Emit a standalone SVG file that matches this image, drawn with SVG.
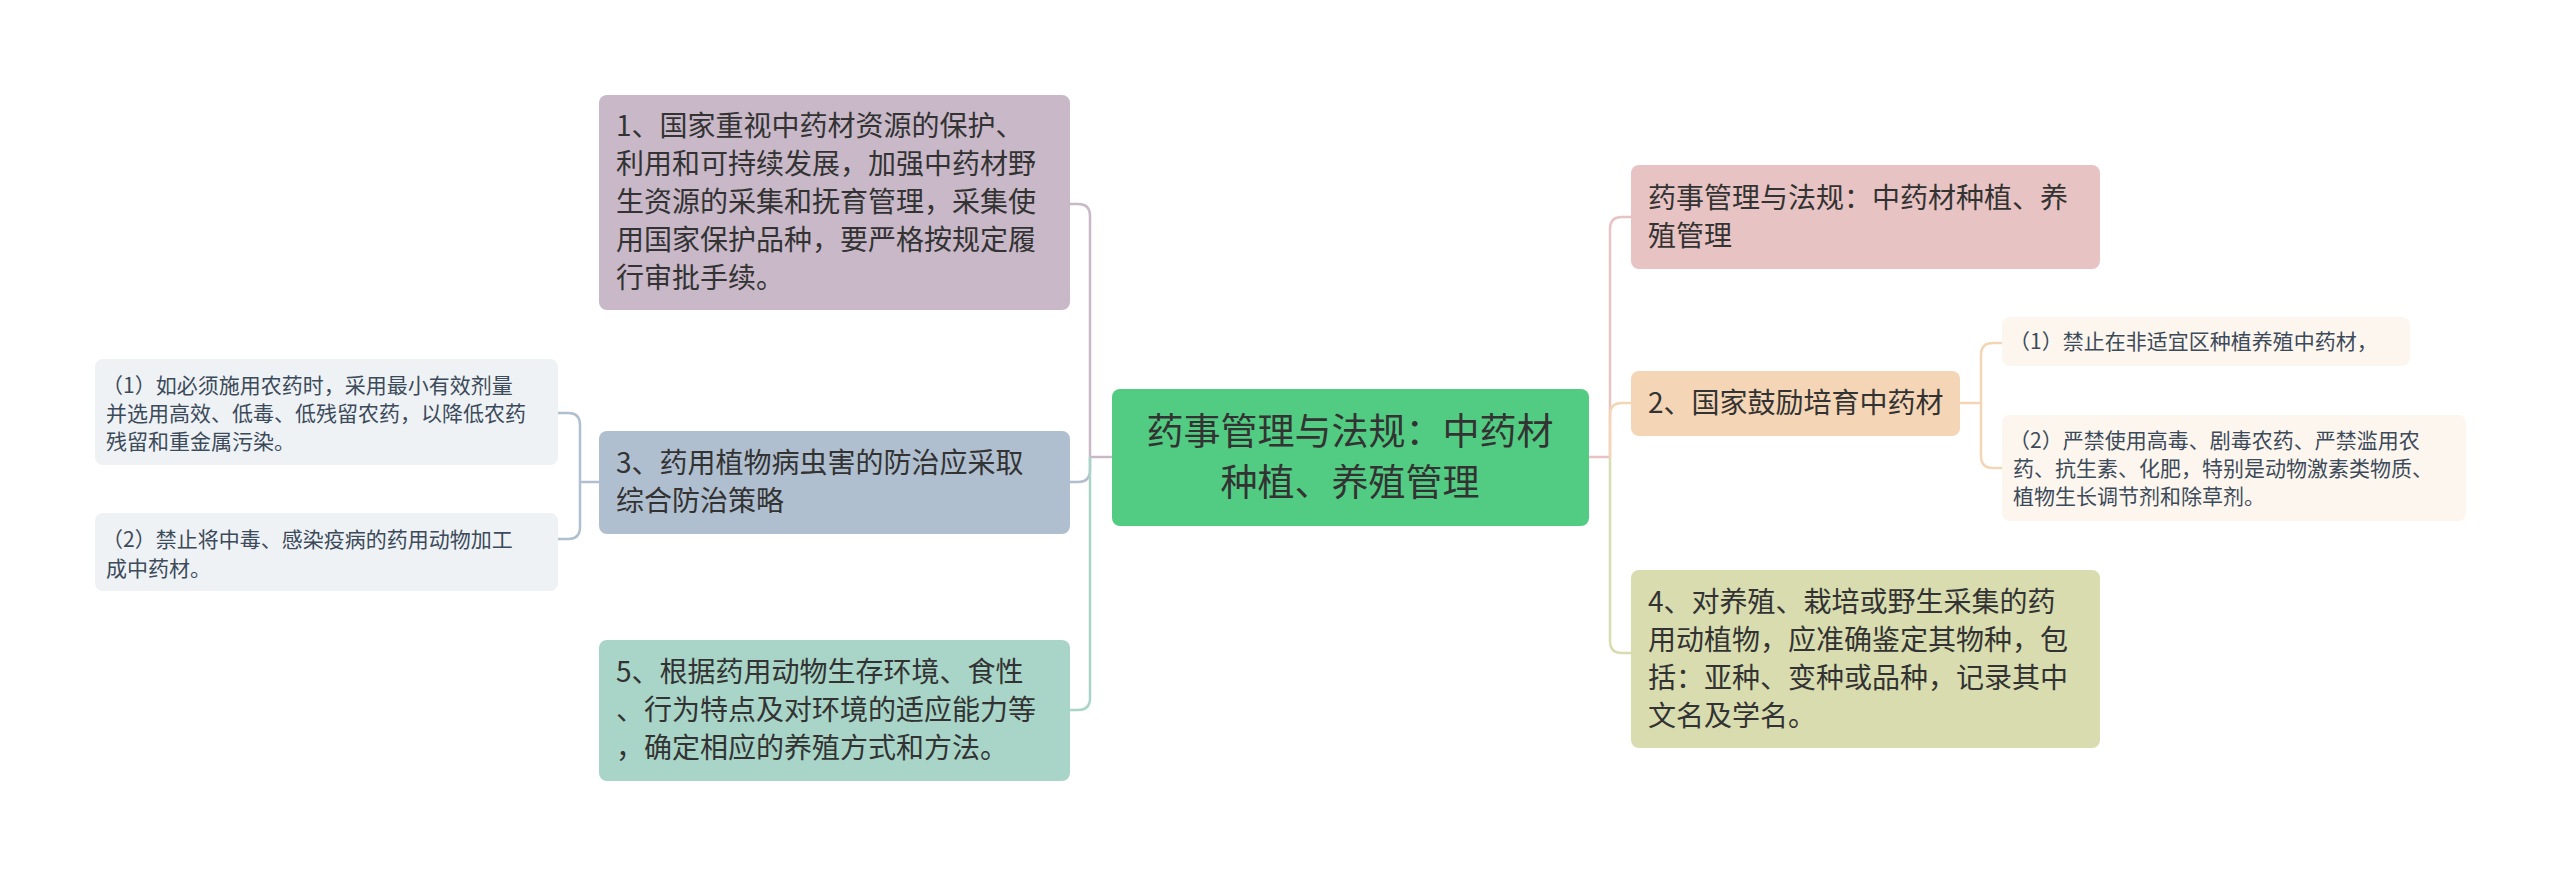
<svg xmlns="http://www.w3.org/2000/svg" width="2560" height="877" viewBox="0 0 2560 877">
<style>
text{font-family:"Noto Sans CJK SC","Liberation Sans",sans-serif;fill:#333}
.m{font-size:28px}
.s{font-size:21px;fill:#3c4a5a}
.c{font-size:37px;text-anchor:middle}
path{fill:none;stroke-width:2.5}
</style>
<rect width="2560" height="877" fill="#fff"/>
<g id="connectors">
<path d="M1112 457H1090" stroke="#c8b8c8"/>
<path d="M1090 457V216Q1090 204 1078 204H1070" stroke="#c8b8c8"/>
<path d="M1090 457V470Q1090 482 1078 482H1070" stroke="#b0bfcf"/>
<path d="M1090 457V698Q1090 710 1078 710H1070" stroke="#a8d5c8"/>
<path d="M1589 457H1610" stroke="#e8c3c3"/>
<path d="M1610 457V229Q1610 217 1622 217H1631" stroke="#e8c3c3"/>
<path d="M1610 457V415Q1610 403 1622 403H1631" stroke="#f4d5b5"/>
<path d="M1610 457V641Q1610 653 1622 653H1631" stroke="#d8dcaf"/>
<path d="M1960 403H1981" stroke="#f4d5b5"/>
<path d="M1981 403V355Q1981 343 1993 343H2002" stroke="#f4d5b5"/>
<path d="M1981 403V456Q1981 468 1993 468H2002" stroke="#f4d5b5"/>
<path d="M599 482H580" stroke="#b0bfcf"/>
<path d="M580 482V425Q580 413 568 413H558" stroke="#b0bfcf"/>
<path d="M580 482V527Q580 539 568 539H558" stroke="#b0bfcf"/>
</g>
<g id="center"><rect x="1112" y="389" width="477" height="137" rx="8" fill="#52cc82"/>
<text class="c" x="1350" y="445">药事管理与法规：中药材</text><text class="c" x="1350" y="496">种植、养殖管理</text></g>
<g id="n1"><rect x="599" y="95" width="471" height="215" rx="8" fill="#c8b8c8"/>
<text class="m" x="616"><tspan x="616" y="136">1、国家重视中药材资源的保护、</tspan><tspan x="616" y="174">利用和可持续发展，加强中药材野</tspan><tspan x="616" y="212">生资源的采集和抚育管理，采集使</tspan><tspan x="616" y="250">用国家保护品种，要严格按规定履</tspan><tspan x="616" y="288">行审批手续。</tspan></text></g>
<g id="n3"><rect x="599" y="431" width="471" height="103" rx="8" fill="#b0bfcf"/>
<text class="m"><tspan x="616" y="473">3、药用植物病虫害的防治应采取</tspan><tspan x="616" y="511">综合防治策略</tspan></text></g>
<g id="n5"><rect x="599" y="640" width="471" height="141" rx="8" fill="#a8d5c8"/>
<text class="m"><tspan x="616" y="682">5、根据药用动物生存环境、食性</tspan><tspan x="616" y="720">、行为特点及对环境的适应能力等</tspan><tspan x="616" y="758">，确定相应的养殖方式和方法。</tspan></text></g>
<g id="l1"><rect x="95" y="359" width="463" height="106" rx="8" fill="#eef2f5"/>
<text class="s"><tspan x="102" y="393">（1）如必须施用农药时，采用最小有效剂量</tspan><tspan x="106" y="421">并选用高效、低毒、低残留农药，以降低农药</tspan><tspan x="106" y="449">残留和重金属污染。</tspan></text></g>
<g id="l2"><rect x="95" y="513" width="463" height="78" rx="8" fill="#eef2f5"/>
<text class="s"><tspan x="102" y="547">（2）禁止将中毒、感染疫病的药用动物加工</tspan><tspan x="106" y="576">成中药材。</tspan></text></g>
<g id="r1"><rect x="1631" y="165" width="469" height="104" rx="8" fill="#e8c3c3"/>
<text class="m"><tspan x="1648" y="208">药事管理与法规：中药材种植、养</tspan><tspan x="1648" y="246">殖管理</tspan></text></g>
<g id="r2"><rect x="1631" y="371" width="329" height="65" rx="8" fill="#f4d5b5"/>
<text class="m" x="1648" y="413">2、国家鼓励培育中药材</text></g>
<g id="r2a"><rect x="2002" y="317" width="408" height="49" rx="8" fill="#fdf6ee"/>
<text class="s" x="2009" y="349">（1）禁止在非适宜区种植养殖中药材，</text></g>
<g id="r2b"><rect x="2002" y="415" width="464" height="106" rx="8" fill="#fdf6ee"/>
<text class="s"><tspan x="2009" y="448">（2）严禁使用高毒、剧毒农药、严禁滥用农</tspan><tspan x="2013" y="476">药、抗生素、化肥，特别是动物激素类物质、</tspan><tspan x="2013" y="504">植物生长调节剂和除草剂。</tspan></text></g>
<g id="r4"><rect x="1631" y="570" width="469" height="178" rx="8" fill="#d8dcaf"/>
<text class="m"><tspan x="1648" y="612">4、对养殖、栽培或野生采集的药</tspan><tspan x="1648" y="650">用动植物，应准确鉴定其物种，包</tspan><tspan x="1648" y="688">括：亚种、变种或品种，记录其中</tspan><tspan x="1648" y="726">文名及学名。</tspan></text></g>
</svg>
